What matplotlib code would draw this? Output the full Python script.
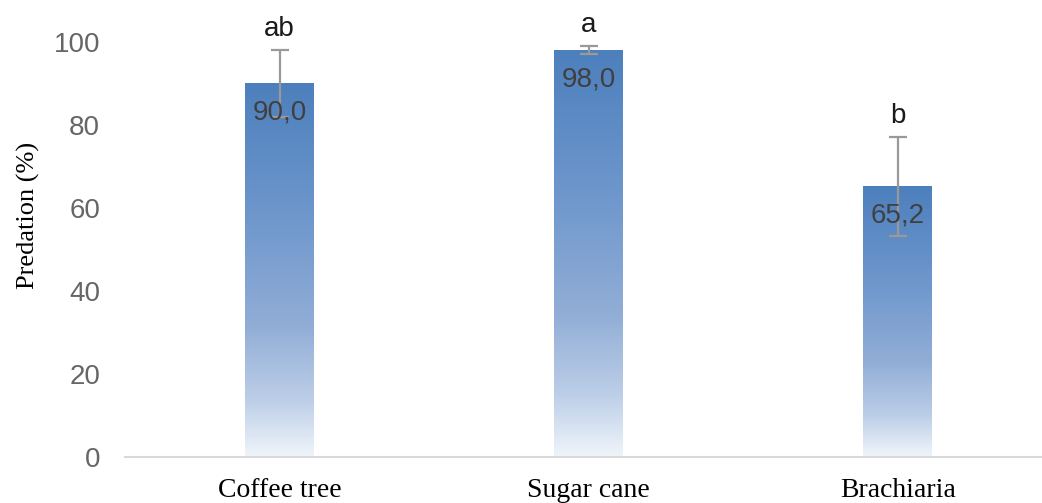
import numpy as np
import matplotlib.pyplot as plt
from matplotlib.colors import LinearSegmentedColormap

# Predation by crop
categories = ['Coffee tree', 'Sugar cane', 'Brachiaria']
predation = [90.0, 98.0, 65.2]
errors = [8.0, 1.0, 12.0]
letters = ['ab', 'a', 'b']
value_labels = ['90,0', '98,0', '65,2']
yticks = [0, 20, 40, 60, 80, 100]

# vertical fill: white at the base to blue at the top of each bar
fill = LinearSegmentedColormap.from_list('fill', [
    (0.00, (0.94, 0.96, 0.98)),
    (0.15, (0.74, 0.81, 0.91)),
    (0.35, (0.57, 0.68, 0.84)),
    (0.65, (0.43, 0.59, 0.80)),
    (1.00, (0.30, 0.50, 0.74)),
])

fig = plt.figure(figsize=(10.42, 5.03), dpi=100)
ax = fig.add_axes([0.12, 0.0915, 0.89, 0.825])

x = np.arange(len(categories))
bars = ax.bar(x, predation, width=0.223, color='none', zorder=2)
grad = np.linspace(0, 1, 256).reshape(-1, 1)
for bar in bars:
    x0, w, h = bar.get_x(), bar.get_width(), bar.get_height()
    im = ax.imshow(grad, cmap=fill, origin='lower', aspect='auto',
                   extent=[x0, x0 + w, 0, h], zorder=2)
    im.set_clip_path(bar)

ax.errorbar(x, predation, yerr=errors, fmt='none', ecolor='#999999',
            elinewidth=1.6, capsize=6.5, capthick=1.6, zorder=3, clip_on=False)

for xi, v, e, lab, let in zip(x, predation, errors, value_labels, letters):
    ax.annotate(lab, (xi, v), xytext=(0, -21), textcoords='offset points',
                ha='center', va='center', fontsize=20, color='#404040',
                family='Liberation Sans', zorder=4)
    ax.annotate(let, (xi, v + e), xytext=(0, 15), textcoords='offset points',
                ha='center', va='center', fontsize=20, color='#1a1a1a',
                family='Liberation Sans', annotation_clip=False)

ax.set_xlim(-0.5, 2.5)
ax.set_ylim(0, 100)
ax.set_yticks(yticks)
ax.set_yticklabels([str(t) for t in yticks], family='Liberation Sans',
                   fontsize=20, color='#666666')
ax.set_xticks(x)
ax.set_xticklabels(categories, family='Liberation Serif', fontsize=20,
                   color='black')
ax.tick_params(axis='y', length=0, pad=18)
ax.tick_params(axis='x', length=0, pad=15)

for side in ['top', 'right', 'left']:
    ax.spines[side].set_visible(False)
ax.spines['bottom'].set_color('#d9d9d9')
ax.spines['bottom'].set_linewidth(1.5)

fig.text(28 / 1042, 1 - 215 / 503, 'Predation (%)', rotation=90,
         ha='center', va='center', family='Liberation Serif', fontsize=19)

fig.savefig('out.png', dpi=100)
